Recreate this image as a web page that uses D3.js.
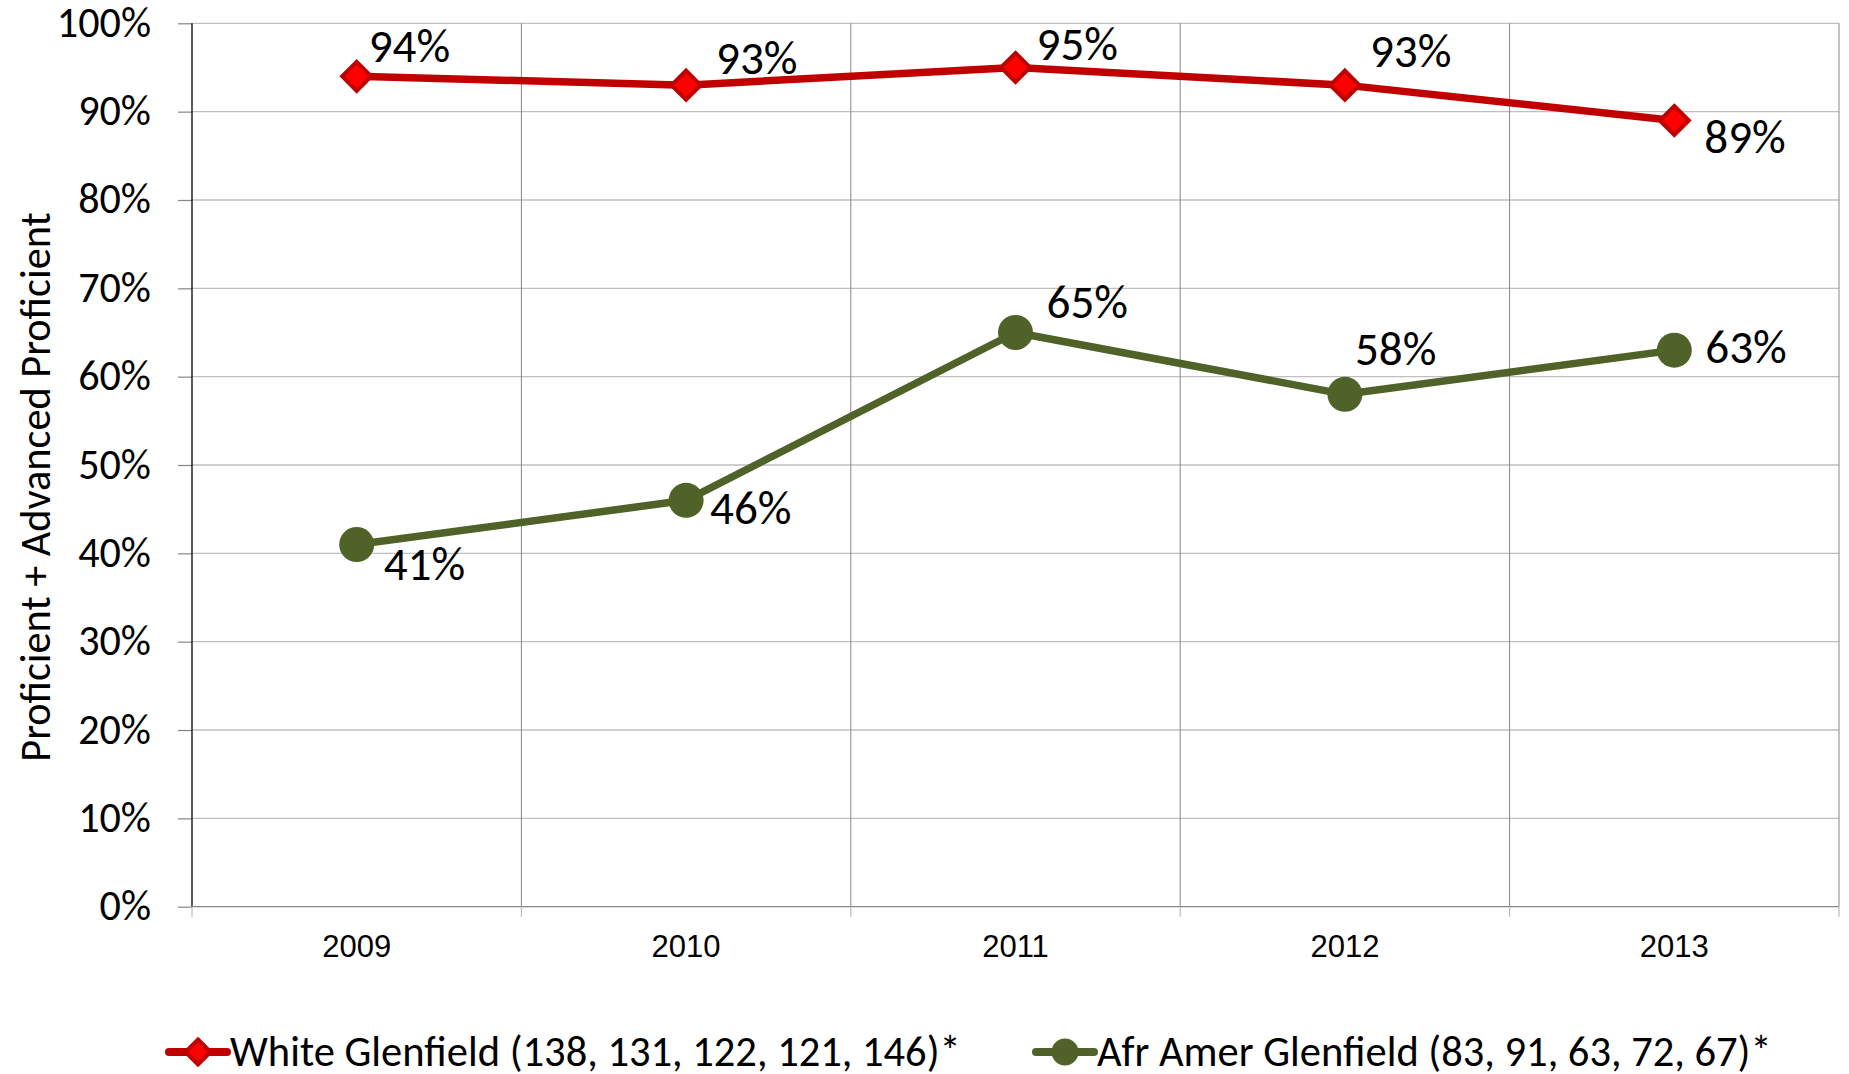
<!DOCTYPE html>
<html>
<head>
<meta charset="utf-8">
<script src="https://cdn.jsdelivr.net/npm/d3@7"></script>
<style>
  html, body { margin: 0; padding: 0; background: #ffffff; }
  svg { display: block; }
</style>
</head>
<body>
<svg id="chart" width="1849" height="1074"></svg>
<script>
// ---------- data ----------
const years = ["2009", "2010", "2011", "2012", "2013"];
const whiteValues = [0.94, 0.93, 0.95, 0.93, 0.89];
const afrAmerValues = [0.41, 0.46, 0.65, 0.58, 0.63];
const whiteLabel = "White Glenfield (138, 131, 122, 121, 146)*";
const afrAmerLabel = "Afr Amer Glenfield (83, 91, 63, 72, 67)*";
const yTicks = [0, 0.1, 0.2, 0.3, 0.4, 0.5, 0.6, 0.7, 0.8, 0.9, 1.0];
const yTitle = "Proficient + Advanced Proficient";

// ---------- layout ----------
const W = 1849, H = 1074;
const margin = { top: 23.3, right: 10, bottom: 1074 - 906.7, left: 192 };
const FONT = "Calibri, Carlito, Lato, 'Noto Sans', sans-serif";
const ARIAL = "Arial, 'Liberation Sans', sans-serif";

// label offsets (dx to text start, dy to baseline), per point
const whiteLabelOffsets = [[12, -14.6], [30, -11.4], [21, -7.7], [25, -18.4], [30, 32.7]];
const afrLabelOffsets = [[27, 35], [24, 23.5], [31, -14.5], [10, -29], [31, 13]];

const svg = d3.select("#chart");

// font scale: fit the Calibri-designed sizes to the available font
const probe = svg.append("text").attr("font-family", FONT).attr("font-size", 100).text(whiteLabel);
const probeW = probe.node().getComputedTextLength();
probe.remove();
const k = (731 / 42.4) / (probeW / 100);
const fs = s => s * k;

const x = d3.scaleBand().domain(years).range([margin.left, W - margin.right]).padding(0);
const y = d3.scaleLinear().domain([0, 1]).range([H - margin.bottom, margin.top]);
const cx = d => x(d) + x.bandwidth() / 2;

const gridColor = "#BFBFBF";
const axisGray = "#868686";

// horizontal gridlines
svg.append("g").selectAll("line").data(yTicks.filter(t => t > 0)).join("line")
  .attr("x1", margin.left).attr("x2", W - margin.right)
  .attr("y1", d => y(d)).attr("y2", d => y(d))
  .attr("stroke", gridColor).attr("stroke-width", 1.3);

// vertical category separators
const bounds = years.map(d => x(d)).concat([x(years[years.length - 1]) + x.bandwidth()]);
svg.append("g").selectAll("line").data(bounds.slice(1)).join("line")
  .attr("x1", d => d).attr("x2", d => d)
  .attr("y1", margin.top).attr("y2", y(0))
  .attr("stroke", axisGray).attr("stroke-width", 1);

// y axis
const yAxis = d3.axisLeft(y).tickValues(yTicks).tickSize(14).tickFormat(d3.format(".0%"));
const gy = svg.append("g").attr("transform", `translate(${margin.left},0)`).call(yAxis);
gy.select(".domain").remove();
gy.selectAll(".tick line").attr("stroke", axisGray).attr("stroke-width", 1.2);
gy.selectAll(".tick text").attr("font-family", FONT).attr("font-size", fs(42))
  .attr("fill", "#000").attr("x", -41).attr("dy", null).attr("y", 13);
svg.append("line").attr("x1", margin.left).attr("x2", margin.left)
  .attr("y1", margin.top).attr("y2", y(0)).attr("stroke", "#000").attr("stroke-width", 1.3);

// x axis
const gx = svg.append("g").attr("transform", `translate(0,${y(0)})`);
gx.append("line").attr("x1", margin.left).attr("x2", W - margin.right)
  .attr("stroke", axisGray).attr("stroke-width", 1.3);
gx.selectAll("line.tk").data(bounds).join("line").attr("class", "tk")
  .attr("x1", d => d).attr("x2", d => d).attr("y1", 0).attr("y2", 10)
  .attr("stroke", "#BFBFBF").attr("stroke-width", 1.3);
gx.selectAll("text").data(years).join("text")
  .attr("x", d => cx(d)).attr("y", 50.5)
  .attr("text-anchor", "middle").attr("font-family", ARIAL).attr("font-size", 31)
  .attr("fill", "#000").text(d => d);

// y title
svg.append("text")
  .attr("transform", `translate(50,487) rotate(-90)`)
  .attr("text-anchor", "middle").attr("font-family", FONT).attr("font-size", fs(42.2))
  .attr("fill", "#000").text(yTitle);

// lines
const line = d3.line().x(d => cx(d.year)).y(d => y(d.v));
const whiteData = years.map((yr, i) => ({ year: yr, v: whiteValues[i] }));
const afrData = years.map((yr, i) => ({ year: yr, v: afrAmerValues[i] }));

const red = "#C00000", redFill = "#FF0000", green = "#4F6228";

svg.append("path").datum(afrData).attr("d", line)
  .attr("fill", "none").attr("stroke", green).attr("stroke-width", 7.5).attr("stroke-linejoin", "round");
svg.append("path").datum(whiteData).attr("d", line)
  .attr("fill", "none").attr("stroke", red).attr("stroke-width", 7.5).attr("stroke-linejoin", "round");

const diamond = r => `M0,${-r}L${r},0L0,${r}L${-r},0Z`;

svg.append("g").selectAll("circle").data(afrData).join("circle")
  .attr("cx", d => cx(d.year)).attr("cy", d => y(d.v)).attr("r", 17.5)
  .attr("fill", green);
svg.append("g").selectAll("path").data(whiteData).join("path")
  .attr("transform", d => `translate(${cx(d.year)},${y(d.v)})`)
  .attr("d", diamond(14.5)).attr("fill", redFill).attr("stroke", red).attr("stroke-width", 4)
  .attr("stroke-linejoin", "miter");

// data labels
const pct = d3.format(".0%");
svg.append("g").selectAll("text").data(whiteData).join("text")
  .attr("x", (d, i) => cx(d.year) + whiteLabelOffsets[i][0])
  .attr("y", (d, i) => y(d.v) + whiteLabelOffsets[i][1])
  .attr("font-family", FONT).attr("font-size", fs(47)).attr("fill", "#000")
  .text(d => pct(d.v));
svg.append("g").selectAll("text").data(afrData).join("text")
  .attr("x", (d, i) => cx(d.year) + afrLabelOffsets[i][0])
  .attr("y", (d, i) => y(d.v) + afrLabelOffsets[i][1])
  .attr("font-family", FONT).attr("font-size", fs(47)).attr("fill", "#000")
  .text(d => pct(d.v));

// legend
const lg = svg.append("g");
const legY = 1052;
// white
lg.append("line").attr("x1", 169).attr("x2", 227).attr("y1", legY).attr("y2", legY)
  .attr("stroke", red).attr("stroke-width", 8).attr("stroke-linecap", "round");
lg.append("path").attr("transform", `translate(198,${legY})`).attr("d", diamond(12.5))
  .attr("fill", redFill).attr("stroke", red).attr("stroke-width", 4);
lg.append("text").attr("x", 230).attr("y", 1066).attr("font-family", FONT)
  .attr("font-size", fs(42.4)).attr("fill", "#000").text(whiteLabel);
// afr amer
lg.append("line").attr("x1", 1036).attr("x2", 1094).attr("y1", legY).attr("y2", legY)
  .attr("stroke", green).attr("stroke-width", 8).attr("stroke-linecap", "round");
lg.append("circle").attr("cx", 1065).attr("cy", legY).attr("r", 13.5).attr("fill", green);
lg.append("text").attr("x", 1097).attr("y", 1066).attr("font-family", FONT)
  .attr("font-size", fs(42.4)).attr("fill", "#000").text(afrAmerLabel);
</script>
</body>
</html>
